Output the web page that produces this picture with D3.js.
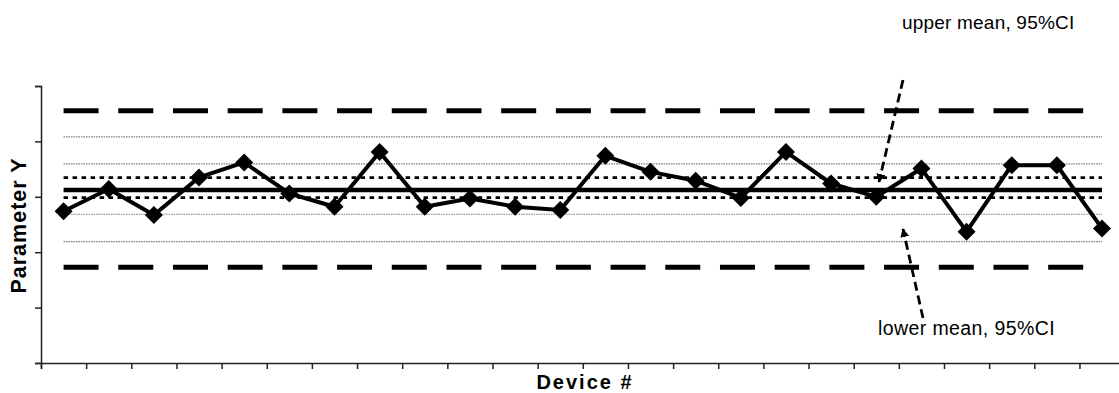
<!DOCTYPE html>
<html>
<head>
<meta charset="utf-8">
<script src="https://cdn.jsdelivr.net/npm/d3@7"></script>
<style>
  html, body { margin: 0; padding: 0; background: #fff; }
  svg { display: block; font-family: "Liberation Sans", Arial, sans-serif; }
</style>
</head>
<body>
<svg id="chart" width="1119" height="393"></svg>
<script>
// ---- data ----
const devices = d3.range(1, 25).map(String);
const paramY = [2.74, 3.14, 2.67, 3.35, 3.62, 3.06, 2.82, 3.81, 2.82, 2.97, 2.82, 2.76,
                3.74, 3.45, 3.29, 2.98, 3.81, 3.24, 3.00, 3.51, 2.37, 3.57, 3.57, 2.43];
const meanValue = 3.125;
const meanCI = [2.985, 3.345];           // lower / upper mean, 95% CI
const sigmaLines = [2.19, 2.685, 3.595, 4.08]; // thin grey dotted lines
const limitLines = [1.73, 4.555];         // long dashed limits
const yTicks = [0, 1, 2, 3, 4, 5];
const labels = { y: "Parameter Y", x: "Device #", upper: "upper mean, 95%CI", lower: "lower mean, 95%CI" };

// ---- layout ----
const svg = d3.select("#chart");
const mLeft = 41, mTop = 86, mBottom = 363;
const step = 45.15;
const mRight = mLeft + step * devices.length;

const x = d3.scaleBand().domain(devices).range([mLeft, mRight]).padding(0);
const xEdge = d3.scaleLinear().domain([0, devices.length]).range([mLeft, mRight]);
const y = d3.scaleLinear().domain([0, 5]).range([mBottom, mTop]);

const cx = d => x(d) + x.bandwidth() / 2;
const x0 = cx(devices[0]);
const x1 = cx(devices[devices.length - 1]);

// grey dotted lines
svg.append("g").selectAll("line").data(sigmaLines).join("line")
  .attr("x1", x0).attr("x2", x1)
  .attr("y1", d => y(d)).attr("y2", d => y(d))
  .attr("stroke", "#7a7a7a").attr("stroke-width", 1.2)
  .attr("stroke-dasharray", "1.5,1");

// long dashed limit lines
svg.append("g").selectAll("line").data(limitLines).join("line")
  .attr("x1", x0).attr("x2", x1)
  .attr("y1", d => y(d)).attr("y2", d => y(d))
  .attr("stroke", "#000").attr("stroke-width", 5)
  .attr("stroke-dasharray", "35,19.7");

// CI dotted lines
svg.append("g").selectAll("line").data(meanCI).join("line")
  .attr("x1", x0).attr("x2", x1)
  .attr("y1", d => y(d)).attr("y2", d => y(d))
  .attr("stroke", "#000").attr("stroke-width", 2.8)
  .attr("stroke-dasharray", "4.5,4.5");

// mean solid line
svg.append("line")
  .attr("x1", x0).attr("x2", x1)
  .attr("y1", y(meanValue)).attr("y2", y(meanValue))
  .attr("stroke", "#000").attr("stroke-width", 4.5);

// axes
const yAxis = svg.append("g").attr("transform", `translate(${mLeft},0)`)
  .call(d3.axisLeft(y).tickValues(yTicks).tickFormat("").tickSizeOuter(0).tickSize(6));
const xAxis = svg.append("g").attr("transform", `translate(0,${mBottom})`)
  .call(d3.axisBottom(xEdge).tickValues(d3.range(0, devices.length + 1)).tickFormat("").tickSizeOuter(0).tickSize(6));
[yAxis, xAxis].forEach(g => {
  g.selectAll("path, line").attr("stroke", "#222").attr("stroke-width", 1.5);
});

// data line
const line = d3.line()
  .x((d, i) => cx(devices[i]))
  .y(d => y(d));
svg.append("path").datum(paramY)
  .attr("d", line).attr("fill", "none")
  .attr("stroke", "#000").attr("stroke-width", 4).attr("stroke-linejoin", "round");

// diamonds
const r = 9;
svg.append("g").selectAll("path").data(paramY).join("path")
  .attr("transform", (d, i) => `translate(${cx(devices[i])},${y(d)})`)
  .attr("d", `M0,${-r}L${r},0L0,${r}L${-r},0Z`)
  .attr("fill", "#000");

// axis titles
svg.append("text")
  .attr("transform", `translate(26,${(mTop + mBottom) / 2 + 1}) rotate(-90)`)
  .attr("text-anchor", "middle")
  .attr("font-size", 21.5).attr("font-weight", "bold").attr("letter-spacing", 1)
  .text(labels.y);
svg.append("text")
  .attr("x", 585).attr("y", 389)
  .attr("text-anchor", "middle")
  .attr("font-size", 20).attr("font-weight", "bold").attr("letter-spacing", 2)
  .text(labels.x);

// annotations
svg.append("text").attr("x", 902).attr("y", 29)
  .attr("font-size", 19).attr("letter-spacing", 0.2).text(labels.upper);
svg.append("text").attr("x", 878).attr("y", 335)
  .attr("font-size", 19.5).attr("letter-spacing", 0.4).text(labels.lower);

// arrows
const defs = svg.append("defs");
defs.append("marker").attr("id", "ah")
  .attr("viewBox", "0 0 10 10").attr("refX", 9).attr("refY", 5)
  .attr("markerWidth", 3.2).attr("markerHeight", 3.2).attr("orient", "auto")
  .attr("markerUnits", "strokeWidth")
  .append("path").attr("d", "M0,0L10,5L0,10Z").attr("fill", "#000");

svg.append("line")
  .attr("x1", 903).attr("y1", 80).attr("x2", 879).attr("y2", 182)
  .attr("stroke", "#000").attr("stroke-width", 2.8)
  .attr("stroke-dasharray", "9,5").attr("marker-end", "url(#ah)");
svg.append("line")
  .attr("x1", 923).attr("y1", 318).attr("x2", 903).attr("y2", 229)
  .attr("stroke", "#000").attr("stroke-width", 2.8)
  .attr("stroke-dasharray", "9,5").attr("marker-end", "url(#ah)");
</script>
</body>
</html>
